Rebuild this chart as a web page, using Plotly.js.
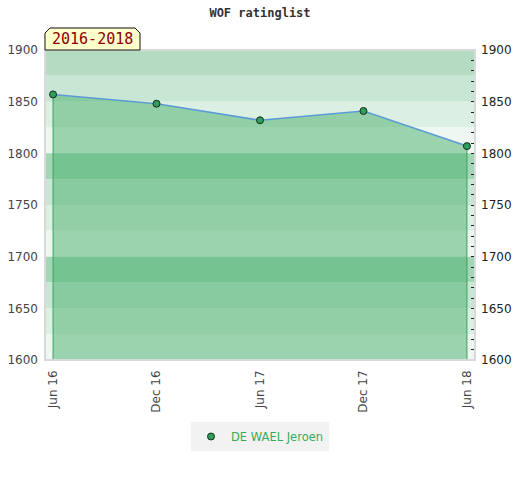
<!DOCTYPE html>
<html>
<head>
<meta charset="utf-8">
<script src="https://cdn.plot.ly/plotly-3.0.1.min.js"></script>
<style>html,body{margin:0;padding:0;background:#fff;}</style>
</head>
<body>
<div id="chart" style="width:520px;height:480px;"></div>
<script>
// ---- data ----
var periods = ["Jun 16", "Dec 16", "Jun 17", "Dec 17", "Jun 18"];
var ratings = [1857, 1848, 1832, 1841, 1807];
var playerName = "DE WAEL Jeroen";
var chartTitle = "WOF ratinglist";
var periodLabel = "2016-2018";
var yMin = 1600, yMax = 1900, bandStep = 25;
var bandColors = ["#b3dcc3", "#c8e6d4", "#dcefe3", "#eef7f1",
                  "#a3d6b5", "#c8e6d4", "#dcefe3", "#eef7f1",
                  "#a3d6b5", "#c8e6d4", "#dcefe3", "#eef7f1"];

// ---- shapes: background bands ----
var shapes = [];
for (var i = 0; i < bandColors.length; i++) {
  shapes.push({
    type: "rect", xref: "paper", yref: "y", layer: "below",
    x0: 0, x1: 1, y0: yMax - (i + 1) * bandStep, y1: yMax - i * bandStep,
    fillcolor: bandColors[i], line: {width: 0}
  });
}
// plot border
shapes.push({type: "rect", xref: "paper", yref: "paper", x0: 0, x1: 1, y0: 0, y1: 1,
  line: {color: "#d9d9d9", width: 2}, layer: "above"});
// label tab
shapes.push({type: "path", xref: "paper", yref: "paper", layer: "above",
  path: "M 0,1 L 0,1.0548 L 0.0116,1.071 L 0.2093,1.071 L 0.2209,1.0548 L 0.2209,1 Z",
  fillcolor: "#ffffcc", line: {color: "#111", width: 1}});

var last = periods.length - 1;
var traces = [
  {
    x: periods, y: ratings, type: "scatter", mode: "lines",
    fill: "tozeroy", fillcolor: "rgba(72,175,107,0.5)",
    line: {color: "#5b9bd5", width: 1.6}, showlegend: false, hoverinfo: "skip"
  },
  {
    x: [periods[0], periods[0]], y: [ratings[0], yMin], type: "scatter", mode: "lines",
    line: {color: "#3aa35a", width: 1}, showlegend: false, hoverinfo: "skip"
  },
  {
    x: [periods[last], periods[last]], y: [ratings[last], yMin], type: "scatter", mode: "lines",
    line: {color: "#3aa35a", width: 1}, showlegend: false, hoverinfo: "skip"
  },
  {
    x: periods, y: ratings, type: "scatter", mode: "markers", name: playerName,
    marker: {color: "#2e9e5b", size: 7, line: {color: "#1a2a1a", width: 1}}
  },
  {
    x: periods, y: ratings, type: "scatter", mode: "markers", yaxis: "y2",
    marker: {opacity: 0}, showlegend: false, hoverinfo: "skip"
  }
];

var layout = {
  width: 520, height: 480,
  margin: {l: 45, r: 45, t: 50, b: 120},
  paper_bgcolor: "#ffffff", plot_bgcolor: "#ffffff",
  font: {family: "DejaVu Sans", size: 12, color: "#444"},
  title: {text: "<b>" + chartTitle + "</b>", x: 0.5, xanchor: "center", y: 0.973, yanchor: "middle",
    font: {family: "DejaVu Sans Mono", size: 12, color: "#333"}},
  xaxis: {
    type: "category", range: [-0.078, last + 0.078], tickangle: -90,
    showgrid: false, zeroline: false, showline: false, ticks: "", ticklabelstandoff: 7,
    tickfont: {family: "DejaVu Sans", size: 12, color: "#444"}, fixedrange: true
  },
  yaxis: {
    range: [yMin, yMax], dtick: 50, showgrid: false, zeroline: false, showline: false,
    ticks: "", ticklabelstandoff: 6,
    tickfont: {family: "DejaVu Sans", size: 12, color: "#444"}
  },
  yaxis2: {
    overlaying: "y", side: "right", range: [yMin, yMax], dtick: 50,
    showgrid: false, zeroline: false, showline: false,
    ticks: "inside", ticklen: 4, tickcolor: "#222", tickwidth: 1, ticklabelstandoff: 5,
    minor: {dtick: 10, ticks: "inside", ticklen: 4, tickcolor: "#222", tickwidth: 1, showgrid: false},
    tickfont: {family: "DejaVu Sans", size: 12, color: "#222"}
  },
  shapes: shapes,
  annotations: [{
    xref: "paper", yref: "paper", x: 0.1105, y: 1.036, xanchor: "center", yanchor: "middle",
    text: periodLabel, showarrow: false,
    font: {family: "DejaVu Sans Mono", size: 15, color: "#8b0000"}
  }],
  legend: {
    orientation: "h", x: 0.5, xanchor: "center", y: -0.2, yanchor: "top",
    bgcolor: "#f2f2f2", font: {family: "DejaVu Sans", size: 11.5, color: "#3aaa5a"}
  },
  showlegend: true
};

Plotly.newPlot("chart", traces, layout, {displayModeBar: false, staticPlot: true});
</script>
</body>
</html>
